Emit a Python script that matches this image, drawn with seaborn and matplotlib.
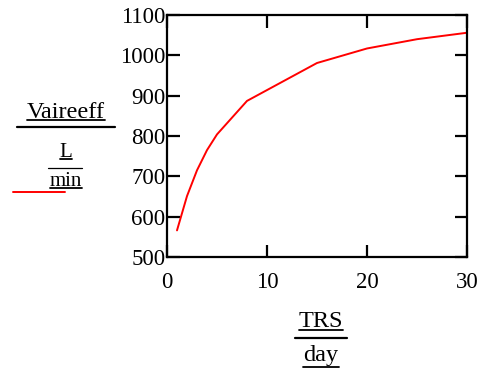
import pandas as pd
import seaborn as sns
import matplotlib.pyplot as plt
from matplotlib.lines import Line2D

trs = [1, 2, 3, 4, 5, 8, 15, 20, 25, 30]
vaireeff = [566, 651, 715, 765, 804, 887, 981, 1017, 1040, 1056]

df = pd.DataFrame({"TRS": trs, "Vaireeff": vaireeff})

sns.set_style("ticks", {"xtick.direction": "in", "ytick.direction": "in",
                        "text.color": "black", "axes.labelcolor": "black",
                        "xtick.color": "black", "ytick.color": "black",
                        "axes.edgecolor": "black"})
plt.rcParams['font.family'] = ['Liberation Serif', 'DejaVu Serif']

W, H = 488, 370
fig = plt.figure(figsize=(W / 100, H / 100), dpi=100)
ax = fig.add_axes([167 / W, 1 - 257 / H, 300 / W, 242 / H])

sns.lineplot(x="TRS", y="Vaireeff", data=df, ax=ax, color="red", linewidth=1.4)

ax.set_xlim(0, 30)
ax.set_ylim(500, 1100)
ax.set_xticks([0, 10, 20, 30])
ax.set_yticks(range(500, 1101, 100))
ax.set_xlabel("")
ax.set_ylabel("")
for s in ax.spines.values():
    s.set_linewidth(1.6)
    s.set_color("black")
ax.tick_params(axis="both", which="both", top=True, right=True, length=9,
               width=1.6, labelsize=16.5, colors="black")
ax.tick_params(axis="x", pad=11)
ax.tick_params(axis="y", pad=1)


def px(x, y):
    return x / W, 1 - y / H


def hline(x0, x1, y, lw, color="black"):
    a, b = px(x0, y)
    c, _ = px(x1, y)
    fig.add_artist(Line2D([a, c], [b, b], transform=fig.transFigure,
                          color=color, linewidth=lw))


renderer = fig.canvas.get_renderer()


def underlined(cx, base, text, size, gap):
    x, y = px(cx, base)
    t = fig.text(x, y, text, ha="center", va="baseline", fontsize=size,
                 color="black")
    bb = t.get_window_extent(renderer)
    hline(bb.x0, bb.x1, base + gap, 1.3)


# y-axis label: Vaireeff / (L/min)
underlined(66, 118, "Vaireeff", 17.5, 2)
hline(17, 115, 127, 1.6)
underlined(66, 157, "L", 15, 2)
hline(48, 82, 168, 0.9)
underlined(66, 186, "min", 15, 2)
hline(13, 65, 192, 1.4, color="red")

# x-axis label: TRS / day
underlined(321, 327, "TRS", 17.5, 3)
hline(295, 347, 338, 1.6)
underlined(321, 361, "day", 17.5, 6)

fig.savefig("out.png", dpi=100)
